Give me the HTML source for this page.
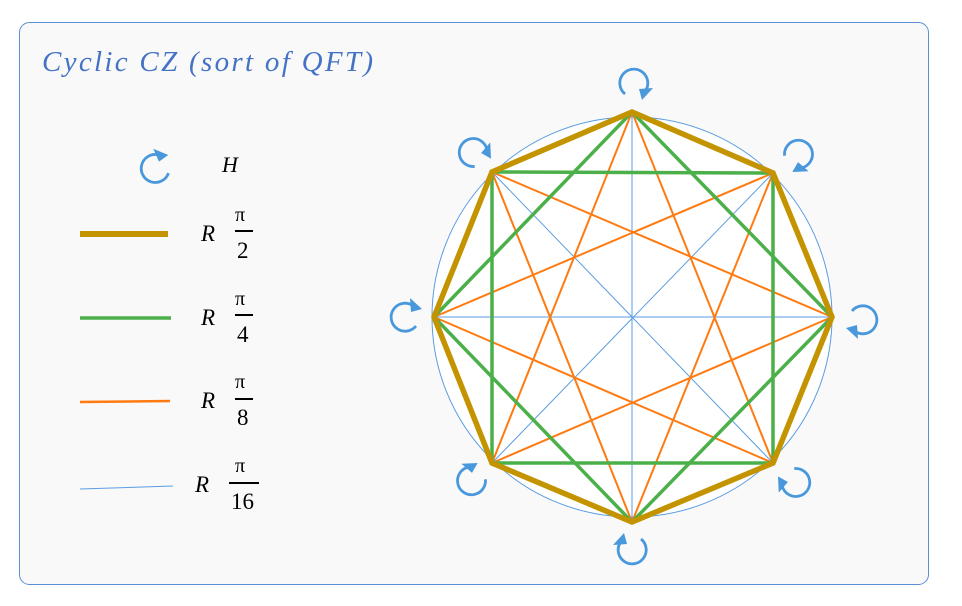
<!DOCTYPE html>
<html><head><meta charset="utf-8"><style>
html,body{margin:0;padding:0;background:#fff;}
svg{display:block}
text{font-family:"Liberation Serif",serif;}
</style></head><body>
<svg width="962" height="606" viewBox="0 0 962 606" xmlns="http://www.w3.org/2000/svg">
<defs>
<g id="ic">
<path d="M -9 10 A 14 14 0 1 1 12 6" fill="none" stroke="#4a98dc" stroke-width="2.8"/>
<polygon points="5,5 19,4 8,16" fill="#4a98dc"/>
</g>
</defs>
<rect x="19.5" y="22.5" width="909" height="562" rx="10" fill="#f9f9f9" stroke="#5b8fd6" stroke-width="1"/>
<text x="42" y="71" font-size="29" font-style="italic" fill="#4472c4" textLength="331" lengthAdjust="spacing">Cyclic CZ (sort of QFT)</text>

<!-- legend -->
<use href="#ic" transform="translate(156,168) rotate(250)"/>
<text x="222" y="172" font-size="22" font-style="italic">H</text>
<line x1="80" y1="234" x2="168" y2="234" stroke="#c49400" stroke-width="6"/>
<line x1="80" y1="318" x2="171" y2="318" stroke="#4cb04a" stroke-width="3.5"/>
<line x1="80" y1="402" x2="170" y2="401" stroke="#ff7a10" stroke-width="2.5"/>
<line x1="80" y1="489" x2="173" y2="486" stroke="#5a9de0" stroke-width="1"/>
<g font-size="23">
<text x="201" y="241" font-style="italic">R</text>
<text x="235" y="221" font-family="DejaVu Serif, serif" font-size="20">π</text><line x1="235" y1="231" x2="253" y2="231" stroke="#000" stroke-width="2"/><text x="237" y="258" font-family="Liberation Sans, sans-serif">2</text>
<text x="201" y="325" font-style="italic">R</text>
<text x="235" y="305" font-family="DejaVu Serif, serif" font-size="20">π</text><line x1="235" y1="315" x2="253" y2="315" stroke="#000" stroke-width="2"/><text x="237" y="342" font-family="Liberation Sans, sans-serif">4</text>
<text x="201" y="408" font-style="italic">R</text>
<text x="235" y="388" font-family="DejaVu Serif, serif" font-size="20">π</text><line x1="235" y1="399" x2="253" y2="399" stroke="#000" stroke-width="2"/><text x="237" y="425" font-family="Liberation Sans, sans-serif">8</text>
<text x="195" y="492" font-style="italic">R</text>
<text x="235" y="472" font-family="DejaVu Serif, serif" font-size="20">π</text><line x1="229" y1="483" x2="259" y2="483" stroke="#000" stroke-width="2"/><text x="231" y="509" font-family="Liberation Sans, sans-serif">16</text>
</g>

<!-- diagram -->
<circle cx="632" cy="317" r="200" fill="#fff" stroke="#5a9de0" stroke-width="1"/>
<g stroke="#5a9de0" stroke-width="1">
<line x1="632" y1="112" x2="632" y2="522"/><line x1="773" y1="173" x2="492" y2="463"/>
<line x1="832" y1="317" x2="434" y2="317"/><line x1="773" y1="463" x2="492" y2="172"/>
</g>
<g stroke="#ff7a10" stroke-width="2">
<line x1="632" y1="112" x2="773" y2="463"/><line x1="773" y1="173" x2="632" y2="522"/>
<line x1="832" y1="317" x2="492" y2="463"/><line x1="773" y1="463" x2="434" y2="317"/>
<line x1="632" y1="522" x2="492" y2="172"/><line x1="492" y1="463" x2="632" y2="112"/>
<line x1="434" y1="317" x2="773" y2="173"/><line x1="492" y1="172" x2="832" y2="317"/>
</g>
<g stroke="#4cb04a" stroke-width="3.5">
<line x1="632" y1="112" x2="832" y2="317"/><line x1="773" y1="173" x2="773" y2="463"/>
<line x1="832" y1="317" x2="632" y2="522"/><line x1="773" y1="463" x2="492" y2="463"/>
<line x1="632" y1="522" x2="434" y2="317"/><line x1="492" y1="463" x2="492" y2="172"/>
<line x1="434" y1="317" x2="632" y2="112"/><line x1="492" y1="172" x2="773" y2="173"/>
</g>
<polygon points="632,112 773,173 832,317 773,463 632,522 492,463 434,317 492,172" fill="none" stroke="#c49400" stroke-width="5.5" stroke-linejoin="miter"/>

<use href="#ic" transform="translate(634,84)"/>
<use href="#ic" transform="translate(798,155) rotate(45)"/>
<use href="#ic" transform="translate(862,320) rotate(90)"/>
<use href="#ic" transform="translate(795,482) rotate(135)"/>
<use href="#ic" transform="translate(632,549) rotate(180)"/>
<use href="#ic" transform="translate(472,480) rotate(225)"/>
<use href="#ic" transform="translate(406,317) rotate(270)"/>
<use href="#ic" transform="translate(474,153) rotate(315)"/>
</svg>
</body></html>
